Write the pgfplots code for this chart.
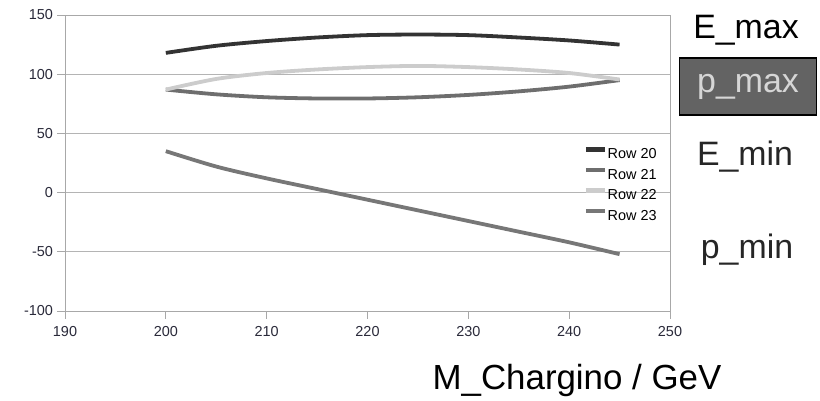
\documentclass[border=0pt]{standalone}
\usepackage{pgfplots}
\pgfplotsset{compat=1.18}
\usepackage{fontspec}
\setmainfont{Liberation Sans}
\definecolor{gridc}{HTML}{B4B4B4}
\definecolor{framec}{HTML}{A8A8A8}
\definecolor{cA}{HTML}{333333}
\definecolor{cB}{HTML}{6E6E6E}
\definecolor{cC}{HTML}{CCCCCC}
\definecolor{cD}{HTML}{777777}
\definecolor{tickc}{HTML}{2A2A3A}
\begin{document}
\begin{tikzpicture}
\path[use as bounding box] (0,0) rectangle (820bp,401bp);
\begin{axis}[
  at={(65bp,90bp)}, anchor=south west,
  scale only axis, width=605bp, height=296bp,
  xmin=190, xmax=250, ymin=-100, ymax=150,
  xtick={190,200,...,250}, ytick={-100,-50,...,150},
  ymajorgrids, grid style={gridc, line width=0.9bp},
  axis line style={framec, line width=0.9bp},
  tick style={framec, line width=0.9bp},
  tick align=outside, major tick length=7.5bp,
  xtick pos=bottom, ytick pos=left,
  /pgf/number format/assume math mode=true,
  /pgf/number format/1000 sep={},
  ticklabel style={font=\fontsize{14.5}{14.5}\selectfont, text=tickc},
  xticklabel style={yshift=-4bp},
  yticklabel style={xshift=-1bp},
  legend style={at={(rel axis cs:0.852,0.56)}, anchor=north west, draw=none, fill=none,
    font=\fontsize{14.5}{14.5}\selectfont, row sep=8.5bp,
    nodes={inner sep=0.5bp, text height=10.5bp, text depth=0bp}},
  legend image code/.code={\draw[#1, line width=4.5bp] (0bp,4bp) -- (19bp,4bp);},
  legend cell align=left,
  clip=false,
]
\addplot[cA, line width=3.8bp, smooth] coordinates {
 (200,118) (205,124) (210,128) (215,131) (220,133) (225,133.5) (230,133) (235,131) (240,128.5) (245,125)};
\addlegendentry{Row 20}
\addplot[cB, line width=3.8bp, smooth] coordinates {
 (200,87) (205,83) (210,80.5) (215,79.5) (220,79.5) (225,80.5) (230,82.5) (235,85.5) (240,89.5) (245,95)};
\addlegendentry{Row 21}
\addplot[cC, line width=3.8bp, smooth] coordinates {
 (200,87) (205,96) (210,101) (215,104) (220,106) (225,107) (230,106) (235,104) (240,101) (245,95.5)};
\addlegendentry{Row 22}
\addplot[cD, line width=3.8bp, smooth] coordinates {
 (200,35) (205,22) (210,12) (215,3) (220,-6) (225,-15) (230,-24) (235,-33) (240,-42) (245,-52)};
\addlegendentry{Row 23}
\end{axis}
\node[font=\fontsize{34}{34}\selectfont] at (746bp,371bp) {E\_max};
\node[draw=black, line width=1.5bp, fill=cB!90!black, minimum width=137bp, minimum height=57bp,
  text=cC!80!white, font=\fontsize{34}{34}\selectfont] at (748bp,314.5bp) {p\_max};
\node[font=\fontsize{34}{34}\selectfont, text=black!85] at (745bp,244bp) {E\_min};
\node[font=\fontsize{34}{34}\selectfont, text=black!85] at (747bp,151bp) {p\_min};
\node[font=\fontsize{35}{35}\selectfont] at (577bp,21bp) {M\_Chargino / GeV};
\end{tikzpicture}
\end{document}
